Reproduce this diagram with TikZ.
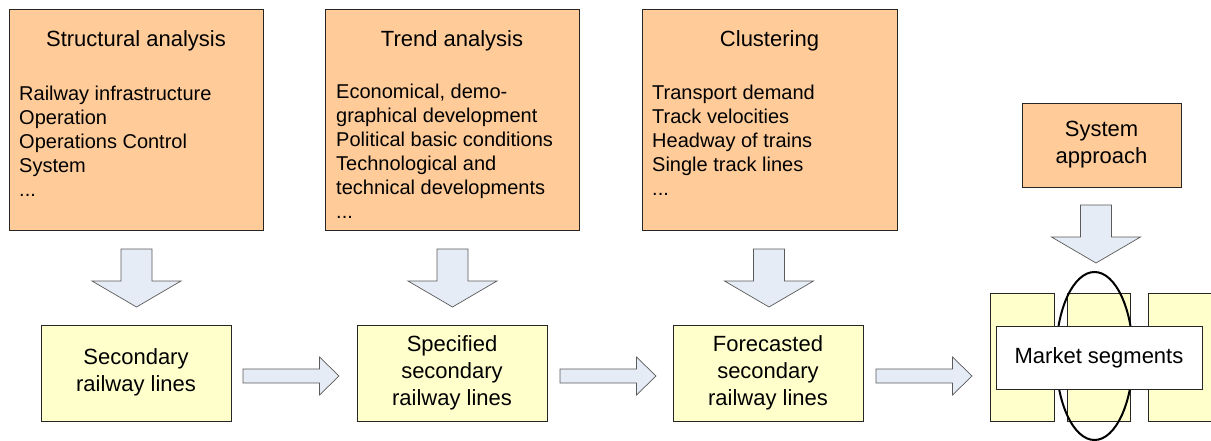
\documentclass[tikz,border=0pt]{standalone}
\usepackage{fontspec}
\setmainfont{Liberation Sans}
\usetikzlibrary{calc,shapes.geometric}

\definecolor{boxorange}{HTML}{FFCC99}
\definecolor{boxyellow}{HTML}{FFFFCC}
\definecolor{arrowfill}{HTML}{E6ECF6}
\definecolor{arrowline}{HTML}{5A5A5A}

% left-aligned list whose baseline is that of its first line
\newcommand\leftlist[1]{\begin{tabular}[t]{@{}l@{}}#1\end{tabular}}
% centred stack of lines
\newcommand\midlist[1]{\begin{tabular}{@{}c@{}}#1\end{tabular}}

\tikzset{
  panel/.style={draw=black!85, line width=0.9pt, inner sep=0pt, outer sep=0pt},
  srcbox/.style={panel, fill=boxorange},
  stagebox/.style={panel, fill=boxyellow},
  blockarrow/.style={draw=arrowline, fill=arrowfill, line width=0.7pt, line join=miter},
  bigtext/.style={font=\fontsize{22}{27}\selectfont, inner sep=0pt},
  listtext/.style={font=\fontsize{20}{24}\selectfont, inner sep=0pt, anchor=base west},
  titletext/.style={font=\fontsize{22}{27}\selectfont, inner sep=0pt, anchor=base},
  downarr/.pic={\draw[blockarrow] (-15.5,0) -- (15.5,0) -- (15.5,32) -- (44.5,32)
      -- (0,58) -- (-44.5,32) -- (-15.5,32) -- cycle;},
  rightarr/.pic={\draw[blockarrow] (0,-7) -- (76.5,-7) -- (76.5,-19) -- (96,0)
      -- (76.5,19) -- (76.5,7) -- (0,7) -- cycle;},
}

\begin{document}
\begin{tikzpicture}[x=1pt, y=-1pt]
\useasboundingbox (0,0) rectangle (1211,441);
\clip (0,0) rectangle (1211,441);

% --- analysis boxes ---
\node[srcbox, minimum width=254pt, minimum height=221pt] (sa) at (136,119.5) {};
\node[titletext] (sat) at (sa.center |- 0,47) {Structural analysis};
\node[listtext] (sal) at (19,101) {\leftlist{Railway infrastructure\\Operation\\Operations Control\\System\\...}};

\node[srcbox, minimum width=254pt, minimum height=221pt] (ta) at (452,119.5) {};
\node[titletext] (tat) at (ta.center |- 0,47) {Trend analysis};
\node[listtext] (tal) at (336,98.5) {\leftlist{Economical, demo-\\graphical development\\Political basic conditions\\Technological and\\technical developments\\...}};

\node[srcbox, minimum width=255pt, minimum height=221pt] (cl) at (769.5,119.5) {};
\node[titletext] (clt) at (cl.center |- 0,47) {Clustering};
\node[listtext] (cll) at (652,100) {\leftlist{Transport demand\\Track velocities\\Headway of trains\\Single track lines\\...}};

\node[srcbox, bigtext, minimum width=159pt, minimum height=84pt] (sys) at (1101.5,145) {\midlist{System\\approach}};

% --- stages ---
\node[stagebox, bigtext, minimum width=190pt, minimum height=96pt] (s1) at (136,373) {\midlist{Secondary\\railway lines}};
\node[stagebox, bigtext, minimum width=190pt, minimum height=96pt] (s2) at (452,373) {\midlist{Specified\\secondary\\railway lines}};
\node[stagebox, bigtext, minimum width=190pt, minimum height=96pt] (s3) at (768,373) {\midlist{Forecasted\\secondary\\railway lines}};

% --- market segments ---
\node[stagebox, minimum width=64pt, minimum height=128pt] (ya) at (1022,357) {};
\node[stagebox, minimum width=63pt, minimum height=128pt] (yb) at (1098.5,357) {};
\node[stagebox, minimum width=67pt, minimum height=128pt] (yc) at (1181.5,357) {};
\node[draw=black, line width=2pt, ellipse, inner sep=0pt, minimum width=77pt, minimum height=168pt] (ring) at (1094.5,356) {};
\node[panel, fill=white, bigtext, minimum width=206pt, minimum height=63pt] (ms) at (1099,357.5) {Market segments};

% --- block arrows ---
\pic at ($(sa.south)+(0.5,19)$) {downarr};
\pic at ($(ta.south)+(0.5,19)$) {downarr};
\pic at ($(cl.south)+(-0.5,19)$) {downarr};
\pic at ($(sys.south)+(-5.5,18)$) {downarr};

\pic at ($(s1.east)+(12,3)$) {rightarr};
\pic at ($(s2.east)+(13,3)$) {rightarr};
\pic at ($(s3.east)+(13,3)$) {rightarr};
\end{tikzpicture}
\end{document}
